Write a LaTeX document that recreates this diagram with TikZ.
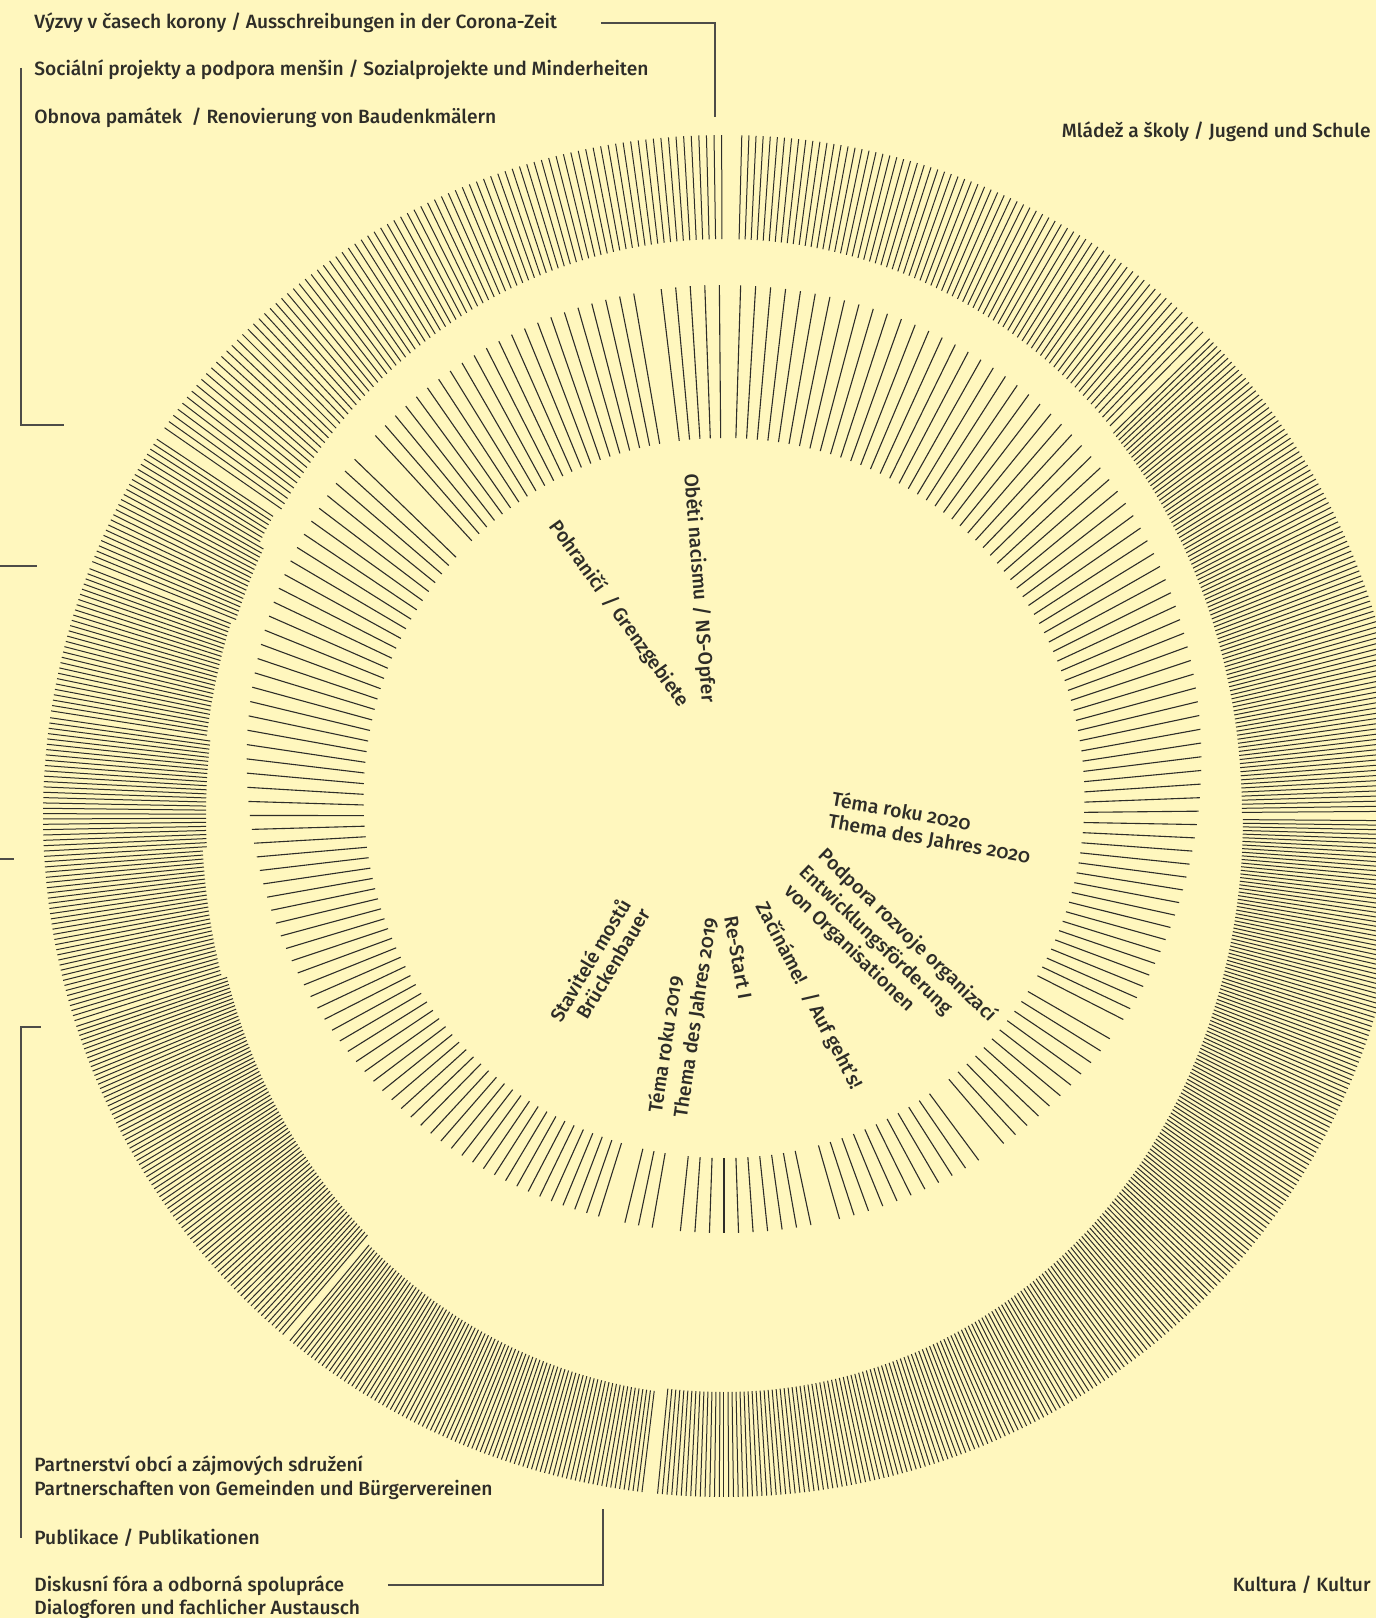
\documentclass[tikz,border=0pt]{standalone}
\usepackage{fontspec}
\setmainfont{Fira Sans}[UprightFont={* Medium}, Numbers=OldStyle]
\definecolor{bg}{HTML}{FFF7BE}
\definecolor{ink}{HTML}{2E2D28}
\begin{document}
\begin{tikzpicture}[x=0.5pt,y=0.5pt,
  oray/.style={draw=ink, line width=0.5pt},
  iray/.style={draw=ink, line width=0.55pt},
  bracket/.style={draw=ink!85, line width=0.65pt},
  lab/.style={inner sep=0, text=ink, font=\fontsize{9.6}{11}\selectfont, anchor=west},
  ilab/.style={inner sep=0, text=ink, font=\fontsize{9.75}{12}\selectfont}]
\fill[bg] (-724,-802) rectangle (652,816);
\useasboundingbox (-724,-802) rectangle (652,816);
\clip (-724,-802) rectangle (652,816);
% outer ring
\foreach \s/\e/\st/\di in {0.4/44.8/0.45/-2, 45.3/89.0/0.6/0, 90.2/145.8/0.64/0,
  146.4/149.4/0.5/4, 149.9/158.2/0.48/-2, 158.7/171.2/0.46/2, 171.7/183.4/0.45/-2,
  183.85/197.6/0.44/2, 198.0/229.6/0.4/-3, 230.4/263.2/0.38/3, 264.4/359.6/0.4/-1}{
  \pgfmathtruncatemacro\n{(\e-\s)/\st}
  \foreach \i in {0,...,\n}{
    \pgfmathsetmacro\a{\s+\i*\st}
    \pgfmathsetmacro\ri{520+57*sin(\a)^2+\di}
    \draw[oray] (\a:\ri) -- (\a:681);
  }
}
% inner ring
\foreach \s/\e/\n in {-27/88.2/72, 90.5/96.8/5, 99.8/132.5/22, 136/252.6/70,
  256.3/260.1/3, 264/282/10, 286/306.5/11, 310.5/330/11}{
  \pgfmathsetmacro\st{(\e-\s)/(\n-1)}
  \pgfmathtruncatemacro\m{\n-1}
  \foreach \i in {0,...,\m}{
    \pgfmathsetmacro\a{\s+\i*\st}
    \pgfmathsetmacro\ra{360+18*sin(\a)}
    \pgfmathsetmacro\rb{474+57*sin(\a)}
    \draw[iray] (\a:\ra) -- (\a:\rb);
  }
}
% outer labels
\node[lab] (vyzvy) at (-690,793) {Výzvy v časech korony / Ausschreibungen in der Corona-Zeit};
\node[lab] (soc) at (-690,746) {Sociální projekty a podpora menšin / Sozialprojekte und Minderheiten};
\node[lab] (obn) at (-690,698) {Obnova památek \ / Renovierung von Baudenkmälern};
\node[lab, anchor=east] (mla) at (647,684) {Mládež a školy / Jugend und Schule};
\node[lab, anchor=east] (kul) at (647,-769) {Kultura / Kultur};
\node[lab] (par1) at (-690,-650) {Partnerství obcí a zájmových sdružení};
\node[lab] (par2) at (-690,-674) {Partnerschaften von Gemeinden und Bürgervereinen};
\node[lab] (pub) at (-690,-722) {Publikace / Publikationen};
\node[lab] (dis1) at (-690,-770) {Diskusní fóra a odborná spolupráce};
\node[lab] (dis2) at (-690,-793) {Dialogforen und fachlicher Austausch};
% brackets
\coordinate (b1a) at (-123,793); \coordinate (b1b) at (-9,793); \coordinate (b1c) at (-9,699);
\draw[bracket] (b1a) -- (b1b) -- (b1c);
\coordinate (b2a) at (-703,748); \coordinate (b2b) at (-703,391); \coordinate (b2c) at (-660,391);
\draw[bracket] (b2a) -- (b2b) -- (b2c);
\coordinate (t2a) at (-724,250); \coordinate (t2b) at (-687,250);
\draw[bracket] (t2a) -- (t2b);
\coordinate (t3a) at (-724,-43); \coordinate (t3b) at (-710,-43);
\draw[bracket] (t3a) -- (t3b);
\coordinate (b3a) at (-683,-211); \coordinate (b3b) at (-703,-211); \coordinate (b3c) at (-703,-722);
\draw[bracket] (b3a) -- (b3b) -- (b3c);
\coordinate (b4a) at (-336,-769); \coordinate (b4b) at (-121,-769); \coordinate (b4c) at (-121,-693);
\draw[bracket] (b4a) -- (b4b) -- (b4c);
% inner labels
\node[ilab, rotate=-85.6] (obeti) at (-25,228) {Oběti nacismu / NS-Opfer};
\node[ilab, rotate=-54.2] (pohr) at (-105,202) {Pohraničí \ / Grenzgebiete};
\node[ilab, rotate=-10, anchor=west] (t20a) at (108,18) {Téma roku 2020};
\node[ilab, rotate=-10, anchor=west] (t20b) at (104,-6) {Thema des Jahres 2020};
\node[ilab, rotate=-44, anchor=west] (pod1) at (97,-36) {Podpora rozvoje organizací};
\node[ilab, rotate=-44, anchor=west] (pod2) at (78,-53) {Entwicklungsförderung};
\node[ilab, rotate=-44, anchor=west] (pod3) at (63,-72) {von Organisationen};
\node[ilab, rotate=-62.3] (zac) at (85,-180) {Začínáme! \ / Auf geht’s!};
\node[ilab, rotate=-80] (res) at (14,-142) {Re-Start I};
\node[ilab, rotate=81.5, anchor=west] (t19a) at (-69,-297) {Téma roku 2019};
\node[ilab, rotate=81.5, anchor=west] (t19b) at (-43,-302) {Thema des Jahres 2019};
\node[ilab, rotate=59.3, anchor=east] (st1) at (-99,-84) {Stavitelé mostů};
\node[ilab, rotate=59.3, anchor=east] (st2) at (-79,-94) {Brückenbauer};
\end{tikzpicture}
\end{document}
